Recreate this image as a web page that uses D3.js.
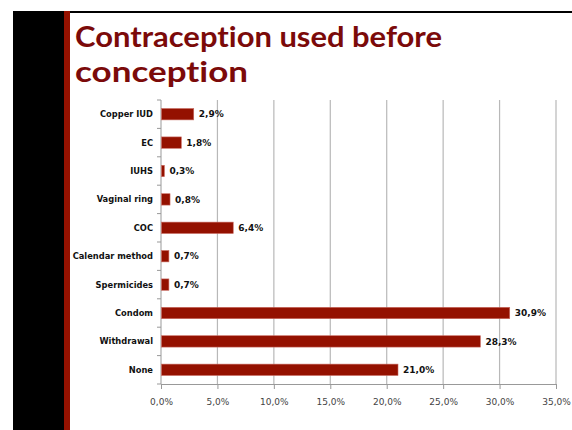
<!DOCTYPE html>
<html><head><meta charset="utf-8">
<script src="https://cdn.jsdelivr.net/npm/d3@7"></script>
<style>body{margin:0;background:#fff;}svg{display:block;}text{font-variant-ligatures:none;font-feature-settings:"liga" 0,"clig" 0;}</style>
</head><body>
<script>
const categories = ["Copper IUD","EC","IUHS","Vaginal ring","COC","Calendar method","Spermicides","Condom","Withdrawal","None"];
const values = [2.9,1.8,0.3,0.8,6.4,0.7,0.7,30.9,28.3,21.0];
const valueLabels = ["2,9%","1,8%","0,3%","0,8%","6,4%","0,7%","0,7%","30,9%","28,3%","21,0%"];
const xTicks = [0,5,10,15,20,25,30,35];
const titleLines = ["Contraception used before","conception"];
const titleWidths = [367,173];

const W=572,H=430;
const svg=d3.select("body").append("svg").attr("width",W).attr("height",H);
svg.append("rect").attr("x",0).attr("y",0).attr("width",W).attr("height",H).attr("fill","#fff");
// top line and left black band
svg.append("rect").attr("x",13).attr("y",11).attr("width",W-13).attr("height",2).attr("fill","#000");
svg.append("rect").attr("x",13).attr("y",11).attr("width",51).attr("height",H-11).attr("fill","#000");
svg.append("rect").attr("x",64).attr("y",11).attr("width",6).attr("height",H-11).attr("fill","#941100");

const font="'DejaVu Sans', Verdana, sans-serif";
svg.selectAll("text.title").data(titleLines).enter().append("text")
  .attr("x",75).attr("y",(d,i)=>47+i*35)
  .attr("font-family","Lato, 'Open Sans', sans-serif").attr("font-weight","bold").attr("font-size",28.5)
  .attr("textLength",(d,i)=>titleWidths[i]).attr("lengthAdjust","spacingAndGlyphs")
  .attr("fill","#7b0a0a").text(d=>d);

const x=d3.scaleLinear().domain([0,35]).range([161,556]);
const y=d3.scaleBand().domain(categories).range([100,384]).paddingInner(0.6).paddingOuter(0.3);

// gridlines
svg.append("g").selectAll("line").data(xTicks.slice(1)).enter().append("line")
  .attr("x1",d=>x(d)).attr("x2",d=>x(d)).attr("y1",100).attr("y2",384)
  .attr("stroke","#b8b8b8").attr("stroke-width",1.2);

// x axis
const xa=svg.append("g").attr("transform","translate(0,384)")
  .call(d3.axisBottom(x).tickValues(xTicks).tickSize(5).tickPadding(10).tickFormat(d=>d.toFixed(1).replace(".",",")+"%"));
xa.select(".domain").attr("stroke","#999");
xa.selectAll(".tick line").attr("stroke","#999");
xa.selectAll("text").attr("font-family",font).attr("font-size",9).attr("fill","#444");

// y axis
const step=(384-100)/categories.length;
const ya=svg.append("g").attr("transform","translate(161,0)");
ya.append("line").attr("x1",0).attr("x2",0).attr("y1",100).attr("y2",384).attr("stroke","#999");
ya.selectAll("line.t").data(d3.range(categories.length+1)).enter().append("line")
  .attr("x1",-4).attr("x2",0).attr("y1",i=>100+i*step).attr("y2",i=>100+i*step).attr("stroke","#999");
ya.selectAll("text").data(categories).enter().append("text")
  .attr("x",-8).attr("y",d=>y(d)+y.bandwidth()/2).attr("dy","0.35em")
  .attr("text-anchor","end").attr("font-family",font).attr("font-weight","bold")
  .attr("font-size",8.3).attr("fill","#111").text(d=>d);

// bars
svg.append("g").selectAll("rect").data(categories).enter().append("rect")
  .attr("x",x(0)+0.5).attr("y",d=>y(d)).attr("height",y.bandwidth())
  .attr("width",(d,i)=>x(values[i])-x(0)-0.5)
  .attr("fill","#941100").attr("stroke","#c86a60").attr("stroke-width",0.6);

svg.append("g").selectAll("text").data(categories).enter().append("text")
  .attr("x",(d,i)=>x(values[i])+5).attr("y",d=>y(d)+y.bandwidth()/2).attr("dy","0.35em")
  .attr("font-family",font).attr("font-weight","bold").attr("font-size",9).attr("fill","#111")
  .text((d,i)=>valueLabels[i]);
</script>
</body></html>
